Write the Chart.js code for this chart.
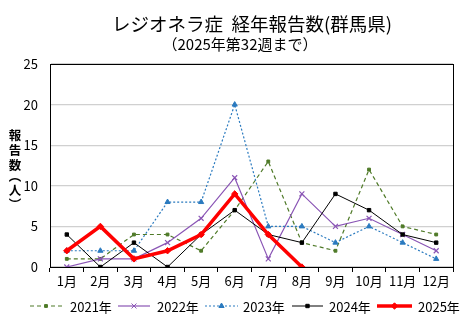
<!DOCTYPE html>
<html><head><meta charset="utf-8">
<script src="https://cdn.jsdelivr.net/npm/chart.js@4/dist/chart.umd.min.js"></script>
<style>html,body{margin:0;padding:0;background:#fff}#wrap{width:474px;height:323px}</style>
</head><body><div id="wrap"><canvas id="c" width="474" height="323"></canvas></div>
<script>
const months = ['1月','2月','3月','4月','5月','6月','7月','8月','9月','10月','11月','12月'];
const seriesNames = ['2021年','2022年','2023年','2024年','2025年'];
const y2021 = [1,1,4,4,2,7,13,3,2,12,5,4];
const y2022 = [0,1,1,3,6,11,1,9,5,6,4,2];
const y2023 = [2,2,2,8,8,20,5,5,3,5,3,1];
const y2024 = [4,0,3,0,4,7,4,3,9,7,4,3];
const y2025 = [2,5,1,2,4,9,4,0];
const yTicks = [0,5,10,15,20,25];
const titleText = 'レジオネラ症  経年報告数(群馬県)';
const subTitleText = '（2025年第32週まで）';
const yTitleChars = ['報','告','数','︵','人','︶'];

const FONT = '"Noto Sans CJK JP", "Noto Sans", sans-serif';
const styles = [
  {color:'#4f7a28', width:1.2, dash:[4,3], point:'rect', r:2},
  {color:'#8a55b5', width:1.2, dash:[], point:'crossRot', r:3.5},
  {color:'#2a7abf', width:1.2, dash:[2,2], point:'triangle', r:3},
  {color:'#000000', width:1, dash:[], point:'rect', r:2.4},
  {color:'#ff0000', width:3.5, dash:[], point:'rectRot', r:3.2}
];
const dataArr = [y2021,y2022,y2023,y2024,y2025];
const datasets = dataArr.map((d,i)=>({
  label: seriesNames[i], data: d,
  borderColor: styles[i].color, backgroundColor: styles[i].color,
  borderWidth: styles[i].width, borderDash: styles[i].dash,
  pointStyle: styles[i].point, pointRadius: styles[i].r,
  pointBorderWidth: i===1?1.2:1, pointBorderColor: styles[i].color, pointBackgroundColor: styles[i].color,
  tension: 0, order: 5-i
}));

const deco = {
  id:'deco',
  afterDraw(chart){
    const ctx = chart.ctx, a = chart.chartArea;
    ctx.save();
    ctx.strokeStyle = '#000'; ctx.lineWidth = 1;
    ctx.strokeRect(Math.round(a.left)+0.5, Math.round(a.top)+0.5, Math.round(a.right-a.left), Math.round(a.bottom-a.top));
    ctx.fillStyle = '#000';
    ctx.textAlign = 'center'; ctx.textBaseline = 'middle';
    ctx.font = '18.5px ' + FONT;
    ctx.fillText(titleText, 252, 24);
    ctx.font = '15px ' + FONT;
    ctx.fillText(subTitleText, 240, 44);
    ctx.font = 'bold 12.5px ' + FONT;
    const ys = [135,150,165,176,190,204];
    yTitleChars.forEach((ch,i)=>{ ctx.fillText(ch, 15, ys[i]); });
    // legend
    const ly = 306;
    const items = [[30,62,70],[118,150,157],[205,238,243],[292,323,329],[377,412,418]];
    ctx.font = '13px ' + FONT; ctx.textAlign = 'left';
    items.forEach((it,i)=>{
      const s = styles[i];
      ctx.beginPath(); ctx.setLineDash(s.dash); ctx.lineWidth = s.width; ctx.strokeStyle = s.color;
      ctx.moveTo(it[0], ly); ctx.lineTo(it[1], ly); ctx.stroke(); ctx.setLineDash([]);
      ctx.fillStyle = s.color; ctx.strokeStyle = s.color; ctx.lineWidth = 1;
      Chart.helpers.drawPoint(ctx, {pointStyle:s.point, radius:s.r, borderWidth:1, rotation:0}, (it[0]+it[1])/2, ly);
      ctx.fillStyle = '#000';
      ctx.fillText(seriesNames[i], it[2], ly+1);
    });
    ctx.restore();
  }
};

new Chart(document.getElementById('c'), {
  type:'line',
  data:{labels: months, datasets},
  options:{
    responsive:false, animation:false, devicePixelRatio:1,
    layout:{padding:{left:0, top:64, right:21, bottom:31}},
    plugins:{legend:{display:false}, title:{display:false}, tooltip:{enabled:false}},
    scales:{
      x:{
        offset:true,
        grid:{offset:true, drawOnChartArea:false, drawTicks:true, tickLength:5, color:'#000'},
        border:{color:'#000'},
        ticks:{color:'#000', font:{family:FONT, size:13}, padding:1, maxRotation:0, autoSkip:false},
        afterFit(s){ s.height = 25; }
      },
      y:{
        min:0, max:25,
        afterBuildTicks(s){ s.ticks = yTicks.map(v=>({value:v})); },
        grid:{color:'#d0d0d0', drawTicks:false, lineWidth:1.3},
        border:{color:'#000'},
        ticks:{color:'#000', font:{family:FONT, size:13}, padding:12},
        afterFit(s){ s.width = 50; }
      }
    }
  },
  plugins:[deco]
});
</script></body></html>
